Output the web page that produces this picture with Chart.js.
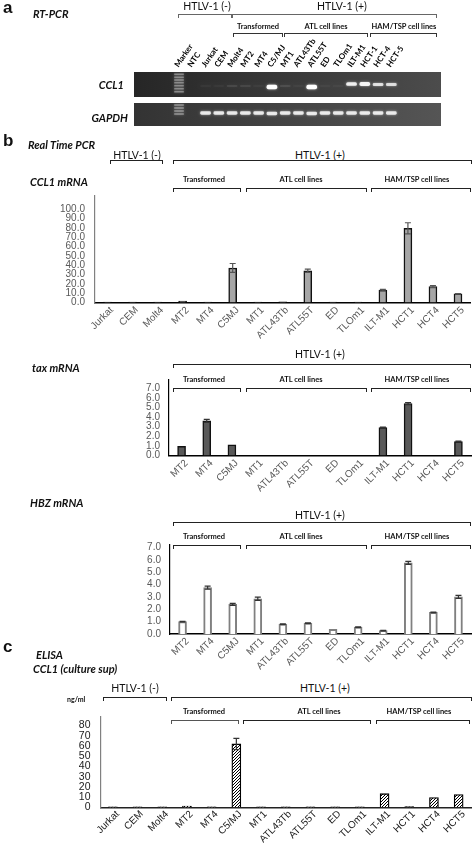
<!DOCTYPE html>
<html>
<head>
<meta charset="utf-8">
<script src="https://cdn.jsdelivr.net/npm/chart.js@4.4.0/dist/chart.umd.min.js"></script>
<style>
html, body { margin: 0; padding: 0; background: #fff; }
#page { position: relative; width: 472px; height: 848px; overflow: hidden; font-family: Lato, "Open Sans", sans-serif; color: #111; }
#page canvas { position: absolute; }
.t { position: absolute; white-space: nowrap; transform: translate(-50%, -50%); }
.l { position: absolute; white-space: nowrap; transform: translateY(-50%); }
.r { position: absolute; white-space: nowrap; transform: translate(-100%, -50%); }
.panel { font: bold 17px "Liberation Sans", Arial, sans-serif; }
.ttl { font-weight: bold; font-style: italic; font-size: 11px; }
.grp { font-size: 10.5px; }
.sub { font-weight: bold; font-size: 7.5px; }
.unit { font-weight: bold; font-size: 7px; }
.br { position: absolute; height: 4px; border: 1.3px solid #222; border-bottom: none; box-sizing: border-box; }
.tick { position: absolute; white-space: nowrap; line-height: 1; }
.tick.down { transform-origin: 100% 50%; transform: translateY(-50%) rotate(-45deg); font: 10px "Liberation Sans", Arial, sans-serif; }
.tick.up { transform-origin: 0 50%; transform: translateY(-50%) rotate(-55deg); font: bold 8px Lato, sans-serif; color: #000; }
</style>
</head>
<body>
<div id="page">
  <!-- a -->
  <div class="l panel" style="left:3px;top:8px">a</div>
  <div class="l ttl" style="left:33px;top:13px">RT-PCR</div>
  <div class="t grp" style="left:207px;top:6px">HTLV-1 (-)</div>
  <div class="t grp" style="left:342px;top:6px">HTLV-1 (+)</div>
  <div class="t sub" style="left:258px;top:26px">Transformed</div>
  <div class="t sub" style="left:326px;top:26px">ATL cell lines</div>
  <div class="t sub" style="left:404px;top:26px">HAM/TSP cell lines</div>
  <div class="r ttl" style="left:124px;top:84px">CCL1</div>
  <div class="r ttl" style="left:128px;top:117px">GAPDH</div>

  <!-- b -->
  <div class="l panel" style="left:3px;top:141px">b</div>
  <div class="l ttl" style="left:28px;top:144px">Real Time PCR</div>
  <div class="t grp" style="left:137px;top:155px">HTLV-1 (-)</div>
  <div class="t grp" style="left:320px;top:155px">HTLV-1 (+)</div>
  <div class="l ttl" style="left:30px;top:181px">CCL1 mRNA</div>
  <div class="t sub" style="left:204px;top:179px">Transformed</div>
  <div class="t sub" style="left:301px;top:179px">ATL cell lines</div>
  <div class="t sub" style="left:417px;top:179px">HAM/TSP cell lines</div>

  <div class="t grp" style="left:320px;top:354px">HTLV-1 (+)</div>
  <div class="l ttl" style="left:32px;top:367px">tax mRNA</div>
  <div class="t sub" style="left:204px;top:379px">Transformed</div>
  <div class="t sub" style="left:301px;top:379px">ATL cell lines</div>
  <div class="t sub" style="left:417px;top:379px">HAM/TSP cell lines</div>

  <div class="l ttl" style="left:30px;top:502px">HBZ mRNA</div>
  <div class="t grp" style="left:320px;top:515px">HTLV-1 (+)</div>
  <div class="t sub" style="left:204px;top:536px">Transformed</div>
  <div class="t sub" style="left:301px;top:536px">ATL cell lines</div>
  <div class="t sub" style="left:417px;top:536px">HAM/TSP cell lines</div>

  <!-- c -->
  <div class="l panel" style="left:3px;top:647px">c</div>
  <div class="l ttl" style="left:36px;top:654px">ELISA</div>
  <div class="l ttl" style="left:33px;top:668px">CCL1 (culture sup)</div>
  <div class="t grp" style="left:135px;top:688px">HTLV-1 (-)</div>
  <div class="t grp" style="left:325px;top:688px">HTLV-1 (+)</div>
  <div class="l unit" style="left:67px;top:699px">ng/ml</div>
  <div class="t sub" style="left:204px;top:711px">Transformed</div>
  <div class="t sub" style="left:319px;top:711px">ATL cell lines</div>
  <div class="t sub" style="left:419px;top:711px">HAM/TSP cell lines</div>
</div>

<script>
Chart.defaults.font.family = '"Liberation Sans", Arial, sans-serif';

// ==========================
// DATA
// ==========================
// a: RT-PCR gel, band brightness (0-1) and migration (px from top of gel)
const gelLanes = ['Marker', 'NTC', 'Jurkat', 'CEM', 'Molt4', 'MT2', 'MT4', 'C5/MJ', 'MT1',
  'ATL43Tb', 'ATL55T', 'ED', 'TLOm1', 'ILT-M1', 'HCT-1', 'HCT-4', 'HCT-5'];
const ccl1Intensity = [0, 0, 0.03, 0.03, 0.08, 0.07, 0.03, 1, 0.08, 0.03, 1, 0.03, 0.03, 0.85, 0.9, 0.75, 0.72];
const ccl1Migration = [0, 0, 14, 14, 14, 14, 14, 15, 14, 14, 15, 14, 14, 12, 12, 12.5, 12.5];
const gapdhIntensity = [0, 0, 0.8, 0.8, 0.8, 0.8, 0.8, 0.8, 0.8, 0.8, 0.8, 0.8, 0.8, 0.8, 0.8, 0.8, 0.8];
const gapdhMigration = [0, 0, 10, 10, 10, 10, 10, 10.5, 10, 10, 10.5, 10, 10, 10, 10, 10, 10];
const ccl1Ladder = [2.3, 5.3, 8, 10.7, 13.7, 16.7, 19.7];
const gapdhLadder = [2, 5, 8, 11];

// b: real time PCR
const pcrCells = ['Jurkat', 'CEM', 'Molt4', 'MT2', 'MT4', 'C5MJ', 'MT1', 'ATL43Tb', 'ATL55T',
  'ED', 'TLOm1', 'ILT-M1', 'HCT1', 'HCT4', 'HCT5'];
const ccl1Mrna = [0.5, 0.5, 0.5, 1.5, 0.5, 37, 0.5, 0.6, 34, 0.5, 0.5, 13.3, 79.5, 17, 9.3];
const ccl1MrnaErr = [0, 0, 0, 0, 0, 4.8, 0, 0, 1.8, 0, 0, 0.8, 6, 1, 0.3];
const ccl1MrnaTicks = [0, 10, 20, 30, 40, 50, 60, 70, 80, 90, 100];

const htlvCells = ['MT2', 'MT4', 'C5MJ', 'MT1', 'ATL43Tb', 'ATL55T', 'ED', 'TLOm1', 'ILT-M1', 'HCT1', 'HCT4', 'HCT5'];
const taxMrna = [0.95, 3.6, 1.1, 0, 0, 0, 0, 0, 2.9, 5.4, 0, 1.45];
const taxErr = [0, 0.15, 0, 0, 0, 0, 0, 0, 0.06, 0.1, 0, 0.04];
const hbzMrna = [1.0, 3.75, 2.4, 2.85, 0.8, 0.88, 0.38, 0.55, 0.28, 5.75, 1.75, 3.0];
const hbzErr = [0.03, 0.13, 0.08, 0.13, 0.02, 0.03, 0, 0.02, 0.02, 0.12, 0.03, 0.13];
const mrnaTicks = [0, 1, 2, 3, 4, 5, 6, 7];

// c: ELISA, CCL1 in culture sup (ng/ml)
const elisaCells = ['Jurkat', 'CEM', 'Molt4', 'MT2', 'MT4', 'C5/MJ', 'MT1', 'ATL43Tb', 'ATL55T',
  'ED', 'TLOm1', 'ILT-M1', 'HCT1', 'HCT4', 'HCT5'];
const elisaCcl1 = [0.4, 0.4, 0.4, 1.2, 0.4, 62, 0.4, 0.4, 0.4, 0.4, 0.4, 13.3, 0.6, 9.5, 12.5];
const elisaErr = [0, 0, 0, 0, 0, 5.5, 0, 0, 0, 0, 0, 0, 0, 0, 0];
const elisaTicks = [0, 10, 20, 30, 40, 50, 60, 70, 80];

// ==========================
// BRACKETS  [x1, x2, y, colour]
// ==========================
const page = document.getElementById('page');
const brackets = [
  [178, 232, 14, '#666'], [232, 437, 14, '#666'],
  [233, 283, 33, '#333'], [284, 368, 33, '#333'], [370, 437, 33, '#333'],
  [110, 163, 160, '#222'], [173, 472, 160, '#222'],
  [173, 241, 188, '#222'], [246, 367, 188, '#222'], [371, 471, 188, '#222'],
  [173, 471, 364, '#222'],
  [173, 241, 388, '#222'], [246, 367, 388, '#222'], [371, 471, 388, '#222'],
  [173, 471, 522, '#222'],
  [173, 241, 545, '#222'], [246, 367, 545, '#222'], [371, 471, 545, '#222'],
  [103, 167, 697, '#222'], [171, 472, 697, '#222'],
  [171, 239, 720, '#555'], [243, 371, 720, '#222'], [376, 470, 720, '#222']
];
brackets.forEach(([x1, x2, y, c]) => {
  const d = document.createElement('div');
  d.className = 'br';
  d.style.left = x1 + 'px';
  d.style.top = y + 'px';
  d.style.width = (x2 - x1) + 'px';
  d.style.borderColor = c;
  page.appendChild(d);
});

function addCanvas(left, top, w, h) {
  const c = document.createElement('canvas');
  c.width = w;
  c.height = h;
  c.style.left = left + 'px';
  c.style.top = top + 'px';
  page.insertBefore(c, page.firstChild);
  return c;
}

// slanted category labels, placed at the chart's x-scale tick pixels
function slantLabels(chart, labels, above, dx, dy, color) {
  const box = chart.canvas;
  const left = parseFloat(box.style.left);
  const top = parseFloat(box.style.top);
  const xs = chart.scales.x;
  const y0 = top + (above ? chart.chartArea.top - dy : chart.chartArea.bottom + dy);
  labels.forEach((lab, i) => {
    const s = document.createElement('span');
    s.className = 'tick ' + (above ? 'up' : 'down');
    s.textContent = lab;
    const x = left + xs.getPixelForValue(i) + dx;
    if (above) s.style.left = x + 'px';
    else s.style.right = (472 - x) + 'px';
    s.style.top = y0 + 'px';
    if (color) s.style.color = color;
    page.appendChild(s);
  });
}

// ==========================
// GEL (panel a)
// ==========================
function gelBg(c0, c1) {
  return {
    id: 'gelBg',
    beforeDraw(chart) {
      const { left, top, right, bottom } = chart.chartArea;
      const ctx = chart.ctx;
      const g = ctx.createLinearGradient(left, 0, right, 0);
      g.addColorStop(0, c0);
      g.addColorStop(1, c1);
      ctx.fillStyle = g;
      ctx.fillRect(left, top, right - left, bottom - top);
    },
    beforeDatasetsDraw(chart) {
      chart.ctx.save();
      chart.ctx.shadowColor = 'rgba(255,255,255,0.7)';
      chart.ctx.shadowBlur = 2.5;
    },
    afterDatasetsDraw(chart) {
      chart.ctx.restore();
    }
  };
}

function gelChart(canvas, intensity, migration, ladder, depth, padTop, bg) {
  const bands = intensity.map((v, i) => {
    const h = 1.5 + 2.5 * Math.pow(v, 3);
    return { x: i, y: [migration[i] - h / 2, migration[i] + h / 2] };
  });
  return new Chart(canvas, {
    type: 'bar',
    data: {
      datasets: [
        {
          data: ladder.map(p => ({ x: 0, y: [p - 0.5, p + 0.5] })),
          backgroundColor: 'rgba(220,220,220,0.42)',
          barThickness: 9,
          grouped: false
        },
        {
          data: bands,
          backgroundColor: intensity.map(v => `rgba(255,255,255,${v})`),
          borderRadius: 2,
          borderSkipped: false,
          barThickness: 10,
          grouped: false
        }
      ]
    },
    options: {
      responsive: false,
      animation: false,
      layout: { padding: { left: 134, right: 31, top: padTop, bottom: 1 } },
      plugins: { legend: { display: false }, tooltip: { enabled: false } },
      scales: {
        x: { type: 'linear', min: -0.5, max: 16.85, display: false },
        y: { type: 'linear', reverse: true, min: 0, max: depth, display: false }
      }
    },
    plugins: [bg]
  });
}

const ccl1Gel = gelChart(addCanvas(0, 0, 472, 98), ccl1Intensity, ccl1Migration, ccl1Ladder, 25, 72,
  gelBg('#262626', '#4c4c4c'));
gelChart(addCanvas(0, 100, 472, 27), gapdhIntensity, gapdhMigration, gapdhLadder, 23, 3,
  gelBg('#333333', '#555555'));
slantLabels(ccl1Gel, gelLanes, true, -3, 6);

// ==========================
// BAR CHARTS (panels b, c)
// ==========================
const errorBars = {
  id: 'errorBars',
  afterDatasetsDraw(chart) {
    const ds = chart.data.datasets[0];
    const meta = chart.getDatasetMeta(0);
    const y = chart.scales.y;
    const ctx = chart.ctx;
    ctx.save();
    ctx.strokeStyle = ds.errColor;
    ctx.lineWidth = 1.2;
    meta.data.forEach((bar, i) => {
      const e = ds.errors[i];
      if (!e) return;
      const y1 = y.getPixelForValue(ds.data[i] + e);
      const y0 = y.getPixelForValue(ds.data[i] - e);
      ctx.beginPath();
      ctx.moveTo(bar.x, y0); ctx.lineTo(bar.x, y1);
      ctx.moveTo(bar.x - 3, y1); ctx.lineTo(bar.x + 3, y1);
      ctx.moveTo(bar.x - 3, y0); ctx.lineTo(bar.x + 3, y0);
      ctx.stroke();
    });
    ctx.restore();
  }
};

function barChart(canvas, o) {
  const chart = new Chart(canvas, {
    type: 'bar',
    data: {
      labels: o.labels,
      datasets: [{
        data: o.values,
        errors: o.errors,
        errColor: o.errColor,
        backgroundColor: o.fill,
        borderColor: o.edge,
        borderWidth: o.edgeWidth,
        borderSkipped: 'start',
        barThickness: o.barW
      }]
    },
    options: {
      responsive: false,
      animation: false,
      layout: { padding: { left: 0, right: o.padRight, top: o.padTop, bottom: 0 } },
      plugins: { legend: { display: false }, tooltip: { enabled: false } },
      scales: {
        x: {
          grid: { display: false, drawTicks: false },
          border: { color: o.xLine, width: 1.5 },
          ticks: { display: false },
          afterFit: s => { s.height = o.xH; }
        },
        y: {
          min: 0,
          max: o.max,
          grid: { display: false, drawTicks: false },
          border: { color: o.yLine, width: 1.2 },
          afterBuildTicks: s => { s.ticks = o.ticks.map(v => ({ value: v })); },
          ticks: {
            color: o.text, font: { size: o.tickSize || 10 }, padding: o.tickPad, autoSkip: false,
            callback: v => v.toFixed(o.dec)
          },
          afterFit: s => { s.width = o.yW; }
        }
      }
    },
    plugins: [errorBars]
  });
  slantLabels(chart, o.labels, false, 4, 5, o.text);
  return chart;
}

// CCL1 mRNA
barChart(addCanvas(0, 180, 472, 180), {
  labels: pcrCells, values: ccl1Mrna, errors: ccl1MrnaErr, ticks: ccl1MrnaTicks,
  max: 114.2, dec: 1, yW: 95, xH: 57.5, padTop: 10, padRight: 1.5, tickPad: 10,
  fill: '#a6a6a6', edge: '#111', edgeWidth: 1.5, barW: 8, errColor: '#555',
  text: '#595959', xLine: '#000', yLine: '#808080'
});

// tax mRNA
barChart(addCanvas(0, 365, 472, 135), {
  labels: htlvCells, values: taxMrna, errors: taxErr, ticks: mrnaTicks,
  max: 7.85, dec: 1, yW: 169, xH: 44.5, padTop: 7, padRight: 1, tickPad: 9,
  fill: '#595959', edge: '#111', edgeWidth: 1.5, barW: 8, errColor: '#333',
  text: '#595959', xLine: '#000', yLine: '#000'
});

// HBZ mRNA
barChart(addCanvas(0, 530, 472, 149), {
  labels: htlvCells, values: hbzMrna, errors: hbzErr, ticks: mrnaTicks,
  max: 7.2, dec: 1, yW: 170, xH: 45, padTop: 8, padRight: 1, tickPad: 9,
  fill: '#ffffff', edge: '#808080', edgeWidth: 2, barW: 8, errColor: '#333',
  text: '#595959', xLine: '#000', yLine: '#000'
});

// ELISA, hatched bars
const hatch = document.createElement('canvas');
hatch.width = 3;
hatch.height = 3;
const hctx = hatch.getContext('2d');
hctx.fillStyle = '#fff';
hctx.fillRect(0, 0, 3, 3);
hctx.strokeStyle = '#000';
hctx.lineWidth = 1;
hctx.beginPath();
hctx.moveTo(-1, 4); hctx.lineTo(4, -1);
hctx.moveTo(-1, 1); hctx.lineTo(1, -1);
hctx.moveTo(2, 4); hctx.lineTo(4, 2);
hctx.stroke();
const hatchFill = hctx.createPattern(hatch, 'repeat');

barChart(addCanvas(0, 700, 472, 148), {
  labels: elisaCells, values: elisaCcl1, errors: elisaErr, ticks: elisaTicks,
  max: 89, dec: 0, yW: 100.5, xH: 40.7, padTop: 6.7, padRight: 1, tickPad: 10, tickSize: 10.5,
  fill: hatchFill, edge: '#000', edgeWidth: 1.3, barW: 9, errColor: '#333',
  text: '#1a1a1a', xLine: '#222', yLine: '#808080'
});
</script>
</body>
</html>
